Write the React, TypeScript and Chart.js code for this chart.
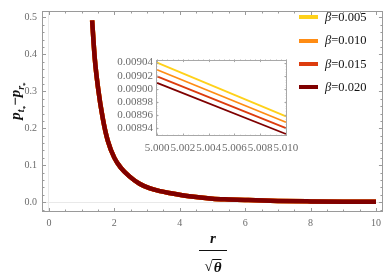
import React, { useEffect, useRef } from "react";
import { Chart, registerables } from "chart.js";

Chart.register(...registerables);

// ---- data ----
const mainX = [1.32, 1.4, 1.5, 1.65, 1.8, 2.0, 2.2, 2.46, 2.77, 3.07, 3.4, 3.68, 4.29, 5.0, 5.5, 6.0, 7.0, 8.0, 9.0, 10.0];
const mainY = [0.492, 0.39, 0.31, 0.225, 0.166, 0.12, 0.093, 0.07, 0.05, 0.038, 0.03, 0.025, 0.016, 0.0095, 0.0075, 0.006, 0.0035, 0.0022, 0.0014, 0.001];

const betaValues = ["0.005", "0.010", "0.015", "0.020"];
const seriesColors = ["#FFD11A", "#FF8C14", "#DD3C0E", "#7F0000"];

const insetX = [5.0, 5.01];
const insetY005 = [0.00904, 0.008958];
const insetY010 = [0.009029, 0.008949];
const insetY015 = [0.009019, 0.00894];
const insetY020 = [0.009009, 0.008931];
const insetSeries = [insetY005, insetY010, insetY015, insetY020];

const xTicks = [0, 2, 4, 6, 8, 10];
const yTicks = [0, 0.1, 0.2, 0.3, 0.4, 0.5];
const insetXTicks = [5.0, 5.002, 5.004, 5.006, 5.008, 5.01];
const insetYTicks = [0.00894, 0.00896, 0.00898, 0.009, 0.00902, 0.00904];

const SERIF = "'Liberation Serif', 'DejaVu Serif', serif";

function minorList(min: number, max: number, step: number) {
  const out: number[] = [];
  for (let v = min; v <= max + step * 1e-6; v += step) out.push(v);
  return out;
}

const framePlugin = {
  id: "frameTicks",
  afterDatasetsDraw(chart: any, _args: any, opts: any) {
    const { ctx, chartArea: a, scales } = chart;
    const xs = scales.x;
    const ys = scales.y;
    ctx.save();
    ctx.strokeStyle = opts.color;
    ctx.lineWidth = 1;
    ctx.strokeRect(Math.round(a.left) + 0.5, Math.round(a.top) + 0.5, Math.round(a.right - a.left) - 1, Math.round(a.bottom - a.top) - 1);
    const drawX = (vals: number[], len: number) => {
      vals.forEach((v) => {
        const px = Math.round(xs.getPixelForValue(v)) + 0.5;
        if (px < a.left || px > a.right) return;
        ctx.beginPath();
        ctx.moveTo(px, a.bottom);
        ctx.lineTo(px, a.bottom - len);
        ctx.moveTo(px, a.top);
        ctx.lineTo(px, a.top + len);
        ctx.stroke();
      });
    };
    const drawY = (vals: number[], len: number) => {
      vals.forEach((v) => {
        const py = Math.round(ys.getPixelForValue(v)) + 0.5;
        if (py < a.top || py > a.bottom) return;
        ctx.beginPath();
        ctx.moveTo(a.left, py);
        ctx.lineTo(a.left + len, py);
        ctx.moveTo(a.right, py);
        ctx.lineTo(a.right - len, py);
        ctx.stroke();
      });
    };
    drawX(opts.xMinor, opts.minorLen);
    drawX(opts.xMajor, opts.majorLen);
    drawY(opts.yMinor, opts.minorLen);
    drawY(opts.yMajor, opts.majorLen);
    ctx.restore();
  },
};

export default function App() {
  const mainRef = useRef<HTMLCanvasElement>(null);
  const insetRef = useRef<HTMLCanvasElement>(null);

  useEffect(() => {
    document.body.style.margin = "0";
    const mainData = mainX.map((x, i) => ({ x, y: mainY[i] }));
    const main = new Chart(mainRef.current as HTMLCanvasElement, {
      type: "line",
      data: {
        datasets: betaValues.map((b, i) => ({
          label: "β=" + b,
          data: mainData,
          borderColor: seriesColors[i],
          borderWidth: 4.5,
          borderCapStyle: "butt",
          pointRadius: 0,
          cubicInterpolationMode: "monotone",
          order: 3 - i,
        })),
      },
      options: {
        animation: false,
        responsive: false,
        devicePixelRatio: 1,
        layout: { padding: { left: 0, right: 1, top: 1, bottom: 0 } },
        plugins: {
          legend: { display: false },
          tooltip: { enabled: false },
          frameTicks: {
            color: "#9a9a9a",
            xMajor: xTicks,
            yMajor: yTicks,
            xMinor: minorList(0, 10, 0.5),
            yMinor: minorList(-0.02, 0.5, 0.02),
            majorLen: 4,
            minorLen: 2.5,
          },
        } as any,
        scales: {
          x: {
            type: "linear",
            min: -0.213,
            max: 10.213,
            afterBuildTicks: (s: any) => {
              s.ticks = xTicks.map((v) => ({ value: v }));
            },
            afterFit: (s: any) => {
              s.height = 65;
            },
            grid: {
              drawTicks: false,
              color: (c: any) => (c.tick && c.tick.value === 0 ? "#e9e9e9" : "rgba(0,0,0,0)"),
            },
            border: { display: false },
            ticks: {
              padding: 5,
              autoSkip: false,
              maxRotation: 0,
              color: "#6b6b6b",
              font: { family: SERIF, size: 10 },
              callback: (v: any) => String(v),
            },
          },
          y: {
            type: "linear",
            min: -0.0265,
            max: 0.5175,
            afterBuildTicks: (s: any) => {
              s.ticks = yTicks.map((v) => ({ value: v }));
            },
            afterFit: (s: any) => {
              s.width = 42;
            },
            grid: {
              drawTicks: false,
              color: (c: any) => (c.tick && c.tick.value === 0 ? "#e9e9e9" : "rgba(0,0,0,0)"),
            },
            border: { display: false },
            ticks: {
              padding: 5,
              autoSkip: false,
              color: "#6b6b6b",
              font: { family: SERIF, size: 10 },
              callback: (v: any) => Number(v).toFixed(1),
            },
          },
        },
      } as any,
      plugins: [framePlugin],
    });

    const inset = new Chart(insetRef.current as HTMLCanvasElement, {
      type: "line",
      data: {
        datasets: betaValues.map((b, i) => ({
          label: "β=" + b,
          data: insetX.map((x, j) => ({ x, y: insetSeries[i][j] })),
          borderColor: seriesColors[i],
          borderWidth: 1.8,
          pointRadius: 0,
        })),
      },
      options: {
        animation: false,
        responsive: false,
        devicePixelRatio: 1,
        layout: { padding: { left: 0, right: 36, top: 8, bottom: 0 } },
        plugins: {
          legend: { display: false },
          tooltip: { enabled: false },
          frameTicks: {
            color: "#a8a8a8",
            xMajor: insetXTicks,
            yMajor: insetYTicks,
            xMinor: minorList(5.0, 5.01, 0.0004),
            yMinor: minorList(0.00893, 0.00904, 0.000004),
            majorLen: 2.5,
            minorLen: 1.2,
          },
        } as any,
        scales: {
          x: {
            type: "linear",
            min: 4.99992,
            max: 5.01008,
            afterBuildTicks: (s: any) => {
              s.ticks = insetXTicks.map((v) => ({ value: v }));
            },
            afterFit: (s: any) => {
              s.height = 19;
            },
            grid: { display: false, drawTicks: false },
            border: { display: false },
            ticks: {
              padding: 6,
              autoSkip: false,
              maxRotation: 0,
              color: "#6b6b6b",
              font: { family: SERIF, size: 11 },
              callback: (v: any) => Number(v).toFixed(3),
            },
          },
          y: {
            type: "linear",
            min: 0.008928,
            max: 0.0090445,
            afterBuildTicks: (s: any) => {
              s.ticks = insetYTicks.map((v) => ({ value: v }));
            },
            afterFit: (s: any) => {
              s.width = 48;
            },
            grid: { display: false, drawTicks: false },
            border: { display: false },
            ticks: {
              padding: 3,
              autoSkip: false,
              color: "#6b6b6b",
              font: { family: SERIF, size: 11 },
              callback: (v: any) => Number(v).toFixed(5),
            },
          },
        },
      } as any,
      plugins: [framePlugin],
    });

    return () => {
      main.destroy();
      inset.destroy();
    };
  }, []);

  const rowTops = [17.3, 40.7, 64, 87.3];

  return (
    <div style={{ position: "fixed", left: 0, top: 0, width: 386, height: 277, background: "#fff", overflow: "hidden" }}>
      <canvas ref={mainRef} width={386} height={277} style={{ position: "absolute", left: 0, top: 0, width: 386, height: 277 }} />
      <canvas ref={insetRef} width={215} height={105} style={{ position: "absolute", left: 108, top: 50, width: 215, height: 105 }} />

      {betaValues.map((b, i) => (
        <div
          key={b}
          style={{ position: "absolute", left: 299, top: rowTops[i] - 8, height: 16, display: "flex", alignItems: "center", whiteSpace: "nowrap" }}
        >
          <div style={{ width: 19, height: 4, background: seriesColors[i], marginRight: 7 }} />
          <span style={{ fontFamily: SERIF, fontSize: 12.5, color: "#111" }}>
            <i>β</i>={b}
          </span>
        </div>
      ))}

      <div
        style={{
          position: "absolute",
          left: 20,
          top: 101,
          transform: "translate(-50%, -50%) rotate(-90deg)",
          fontFamily: SERIF,
          fontWeight: "bold",
          fontStyle: "italic",
          fontSize: 15,
          whiteSpace: "nowrap",
          color: "#111",
          lineHeight: "16px",
        }}
      >
        p<sub style={{ fontSize: 10 }}>t<sub style={{ fontSize: 7, fontStyle: "normal" }}>*</sub></sub>
        <span style={{ fontStyle: "normal" }}>−</span>p
        <sub style={{ fontSize: 10 }}>r<sub style={{ fontSize: 7, fontStyle: "normal" }}>*</sub></sub>
      </div>

      <div
        style={{
          position: "absolute",
          left: 213,
          top: 238,
          transform: "translate(-50%, -50%)",
          fontFamily: SERIF,
          fontWeight: "bold",
          fontStyle: "italic",
          fontSize: 15,
          color: "#111",
          lineHeight: "16px",
        }}
      >
        r
      </div>
      <div style={{ position: "absolute", left: 199, top: 250, width: 28, height: 1.3, background: "#111" }} />
      <div
        style={{
          position: "absolute",
          left: 213,
          top: 266,
          transform: "translate(-50%, -50%)",
          fontFamily: SERIF,
          fontWeight: "bold",
          fontSize: 15,
          color: "#111",
          lineHeight: "16px",
          whiteSpace: "nowrap",
          display: "flex",
          alignItems: "flex-end",
        }}
      >
        <span>√</span>
        <span style={{ fontStyle: "italic", borderTop: "1.3px solid #111", paddingLeft: 1, lineHeight: "14px" }}>θ</span>
      </div>
    </div>
  );
}
